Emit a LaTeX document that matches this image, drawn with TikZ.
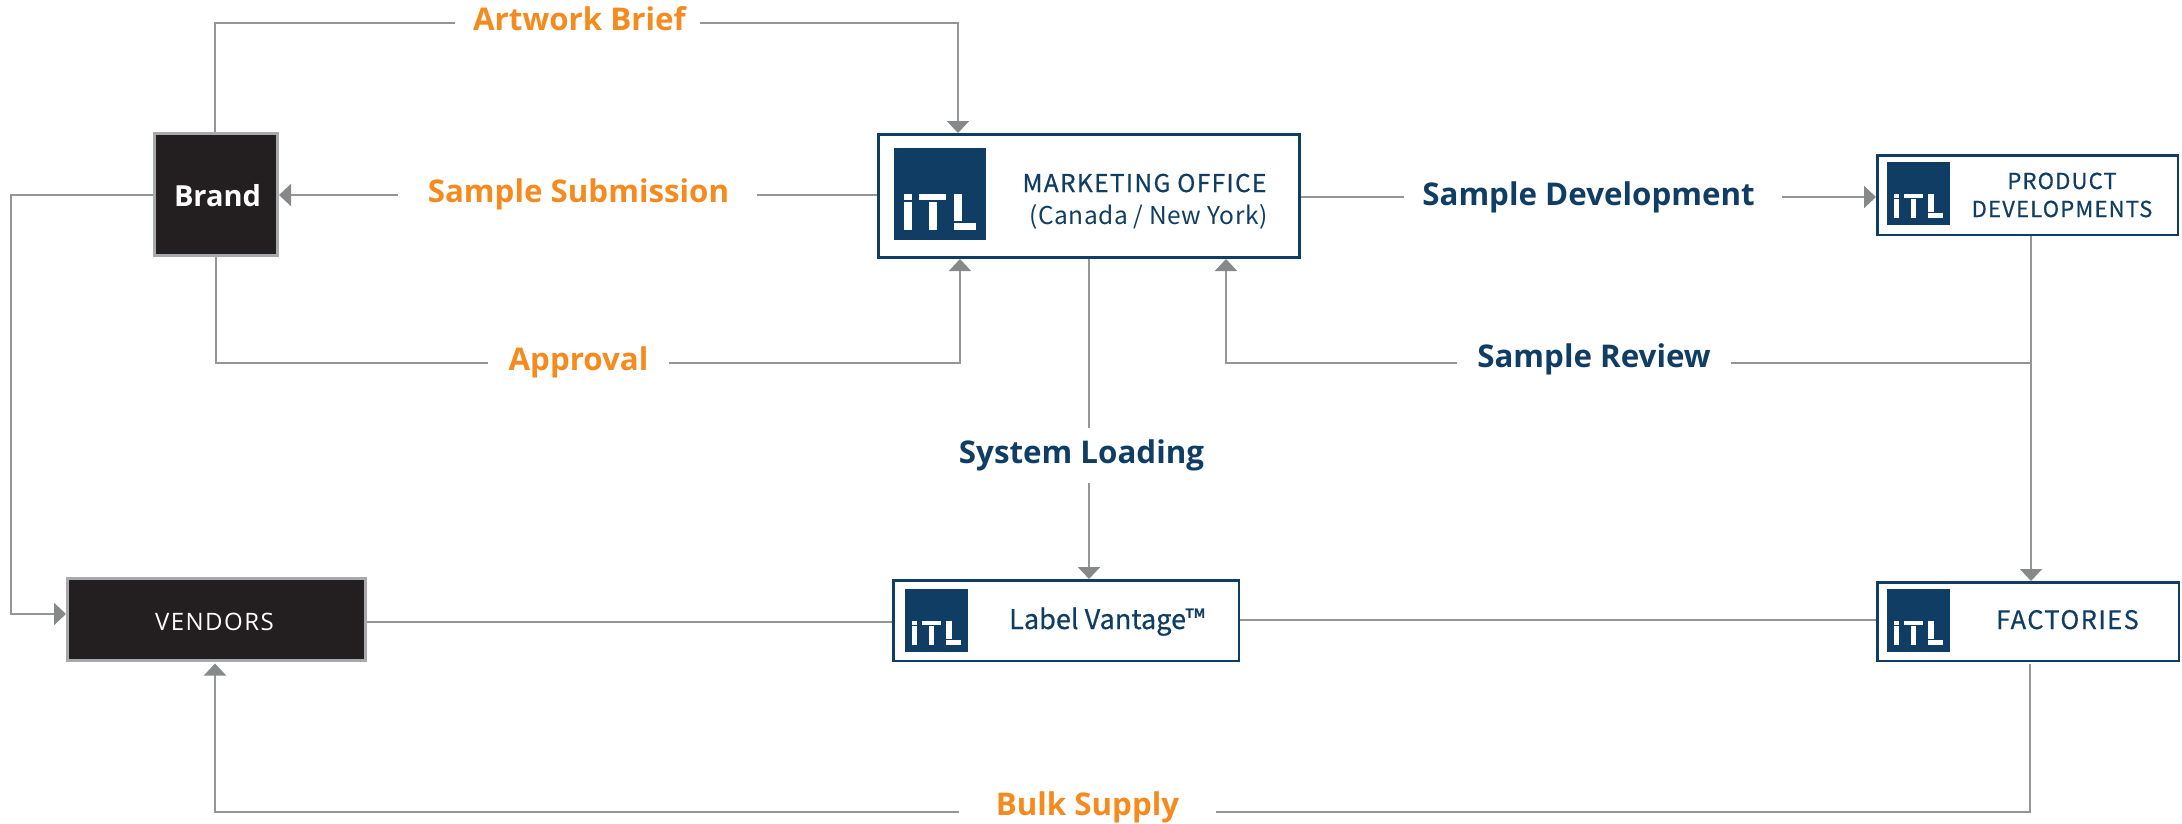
\documentclass[tikz,border=0pt]{standalone}
\usepackage{fontspec}
\setmainfont{Open Sans}
\newfontfamily\bxfont[LetterSpace=5.5,FakeBold=0.5]{Noto Sans CJK SC}
\newfontfamily\bxlight[LetterSpace=2.0]{Noto Sans CJK SC}
\newfontfamily\bxplain[FakeBold=0.5]{Noto Sans CJK SC}
\newfontfamily\vnfont[LetterSpace=6.0]{Open Sans}
\usetikzlibrary{arrows.meta,calc}
\definecolor{itlnavy}{HTML}{0F3D63}
\definecolor{itlorange}{HTML}{F58A1F}
\definecolor{linegray}{HTML}{939598}
\definecolor{headgray}{HTML}{87888A}
\definecolor{boxblack}{HTML}{231F20}
\definecolor{boxedge}{HTML}{A7A9AC}
\tikzset{
  conn/.style={draw=linegray,line width=2pt},
  arrowed/.style={-{Triangle[length=12pt,width=22pt,color=headgray]}},
  itlbox/.style={draw=itlnavy,fill=white,line width=2.5pt,inner sep=0pt},
  darkbox/.style={draw=boxedge,fill=boxblack,line width=3pt,inner sep=0pt},
  itlsquare/.style={fill=itlnavy,inner sep=0pt,outer sep=0pt},
  lab/.style={anchor=base,inner xsep=0pt,inner ysep=0pt,text height=24pt,text depth=8pt,font=\bfseries\fontsize{31.3}{33}\selectfont},
  orangelab/.style={lab,text=itlorange},
  navylab/.style={lab,text=itlnavy},
  boxtext/.style={anchor=base,inner sep=0pt,text=itlnavy},
}
% logo: node name, centre x, centre y, size
\newcommand{\itllogo}[4]{%
  \node[itlsquare,minimum size=#4 pt] (#1) at (#2,#3) {};
  \begin{scope}[shift={(#1.north west)},x=#4 pt,y=-#4 pt]
    \fill[white] (.109,.5) rectangle (.196,.565);
    \fill[white] (.109,.587) rectangle (.196,.891);
    \fill[white] (.272,.5) rectangle (.565,.565);
    \fill[white] (.380,.587) rectangle (.467,.891);
    \fill[white] (.652,.5) rectangle (.739,.793);
    \fill[white] (.652,.815) rectangle (.891,.891);
  \end{scope}
}
\begin{document}
\begin{tikzpicture}[x=1pt,y=-1pt]
\useasboundingbox (0,0) rectangle (2182,823);
% boxes
\node[darkbox,minimum width=123pt,minimum height=122pt] (brand) at (216,194.5) {};
\node[itlbox,line width=3pt,minimum width=421pt,minimum height=123pt] (mkt) at (1089,196) {};
\node[itlbox,minimum width=300.5pt,minimum height=79.5pt] (pdev) at (2027.5,195) {};
\node[darkbox,minimum width=298pt,minimum height=82pt] (vendors) at (216.5,619.5) {};
\node[itlbox,minimum width=345.5pt,minimum height=80.5pt] (lv) at (1066,620.5) {};
\node[itlbox,minimum width=301.5pt,minimum height=78.5pt] (fact) at (2028,621.5) {};
% logos
\itllogo{logoM}{940}{194}{92}
\itllogo{logoP}{1918.5}{193.5}{63}
\itllogo{logoL}{936.5}{620.5}{63}
\itllogo{logoF}{1918.5}{620.5}{63}
% box texts
\node[anchor=base,inner sep=0pt,text=white,font=\bfseries\fontsize{29}{30}\selectfont] (tBrand) at (217.5,206) {Brand};
\node[anchor=base,inner sep=0pt,text=white,font=\vnfont\fontsize{24}{26}\selectfont] (tVendors) at (214.5,630) {VENDORS};
\node[boxtext,font=\bxfont\fontsize{24.5}{26}\selectfont] (tMkt) at (1144.5,192) {MARKETING OFFICE};
\node[boxtext,font=\bxlight\fontsize{24.5}{26}\selectfont] (tMkt2) at (1148.5,224) {(Canada / New York)};
\node[boxtext,font=\bxfont\fontsize{22}{24}\selectfont] (tPd1) at (2062,189) {PRODUCT};
\node[boxtext,font=\bxfont\fontsize{22}{24}\selectfont] (tPd2) at (2062,217) {DEVELOPMENTS};
\node[boxtext,font=\bxplain\fontsize{27.1}{29}\selectfont] (tLv) at (1107,629) {Label Vantage™};
\node[boxtext,font=\bxfont\fontsize{25.5}{27}\selectfont] (tFact) at (2067.5,629) {FACTORIES};
% connector labels: width of the node = gap in the line
\node[orangelab,minimum width=245pt] (lArt) at (577.5,30) {\hspace*{4pt}Artwork Brief};
\node[orangelab,minimum width=359pt] (lSub) at (577.5,202) {\hspace*{2pt}Sample Submission};
\node[orangelab,minimum width=181pt] (lApp) at (578.5,370) {Approval};
\node[navylab,minimum width=378pt] (lDev) at (1593,205) {Sample Development\hspace*{9pt}};
\node[navylab,minimum width=274pt] (lRev) at (1594,367) {Sample Review};
\node[navylab] (lSys) at (1081.5,463) {System Loading};
\node[orangelab,minimum width=257pt] (lBulk) at (1087.5,815) {Bulk Supply};
% free corners
\coordinate (revJoin) at (2031,363);
\coordinate (edgeA) at (11,195);
\coordinate (edgeB) at (11,614);
% connectors
\draw[conn] ([xshift=-1pt]brand.north) |- ([yshift=-1pt]lArt.west);
\draw[conn,arrowed] ([yshift=-1pt]lArt.east) -| ([xshift=-131pt]mkt.north);
\draw[conn] ([yshift=1pt]mkt.west) -- ([yshift=-1pt]lSub.east);
\draw[conn,arrowed] ([yshift=-1pt]lSub.west) -- ([yshift=-.5pt]brand.east);
\draw[conn] (brand.south) |- ([yshift=-1pt]lApp.west);
\draw[conn,arrowed] ([yshift=-1pt]lApp.east) -| ([xshift=-129pt]mkt.south);
\draw[conn,arrowed] ([yshift=-.5pt]brand.west) -- (edgeA) -- (edgeB) -- ([yshift=5.5pt]vendors.west);
\draw[conn] ([yshift=-1pt]mkt.east) -- (lDev.west);
\draw[conn,arrowed] (lDev.east) -- ([yshift=-2pt]pdev.west);
\draw[conn,arrowed] ([xshift=3.5pt]pdev.south) -- ([xshift=3pt]fact.north);
\draw[conn] (revJoin) -- ([yshift=-4pt]lRev.east);
\draw[conn,arrowed] ([yshift=-4pt]lRev.west) -| ([xshift=137pt]mkt.south);
\draw[conn] (mkt.south) -- ([xshift=7.5pt,yshift=11pt]lSys.north);
\draw[conn,arrowed] ([xshift=7.5pt,yshift=-12pt]lSys.south) -- ([xshift=23pt]lv.north);
\draw[conn] ([yshift=-2.5pt]vendors.east) -- ([yshift=-1.5pt]lv.west);
\draw[conn] ([yshift=.5pt]lv.east) -- ([yshift=1.5pt]fact.west);
\draw[conn] ([xshift=2pt,yshift=-2pt]fact.south) |- ([yshift=-5pt]lBulk.east);
\draw[conn,arrowed] ([yshift=-5pt]lBulk.west) -| ([xshift=-1.5pt,yshift=-1.5pt]vendors.south);
\end{tikzpicture}
\end{document}
